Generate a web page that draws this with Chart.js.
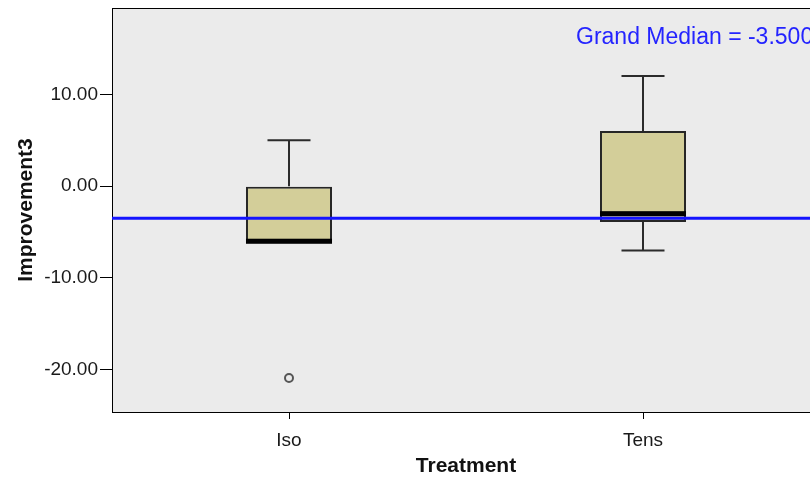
<!DOCTYPE html>
<html>
<head>
<meta charset="utf-8">
<script src="https://cdn.jsdelivr.net/npm/chart.js@4.4.1/dist/chart.umd.min.js"></script>
<style>
  html, body { margin:0; padding:0; background:#fff; overflow:hidden; }
  #wrap { width:830px; height:479px; }
</style>
</head>
<body>
<div id="wrap"><canvas id="c" width="830" height="479"></canvas></div>
<script>
'use strict';
// ── Data ────────────────────────────────────────────────────────────────
const categories   = ['Iso', 'Tens'];
const q1           = [-6.25, -3.9];
const q3           = [0, 6];
const medians      = [-6, -3];
const whiskerLow   = [-6.25, -7];
const whiskerHigh  = [5, 12];
const outliers     = [[-20.9], []];
const grandMedian  = -3.5;
const yTicks       = [-20, -10, 0, 10];
const yMin = -24.6, yMax = 19.4;

const FONT = "'Liberation Sans', Arial, sans-serif";

// ── Box-plot extras drawn through the chart's own scales ──────────────────
const boxExtras = {
  id: 'boxExtras',
  beforeDraw(chart) {
    const { ctx, chartArea: a } = chart;
    ctx.save();
    ctx.fillStyle = '#ebebeb';
    ctx.fillRect(a.left, a.top, a.right - a.left, a.bottom - a.top);
    ctx.restore();
  },
  beforeDatasetsDraw(chart) {
    const { ctx } = chart;
    const x = chart.scales.x, y = chart.scales.y;
    const meta = chart.getDatasetMeta(0);
    ctx.save();
    ctx.strokeStyle = '#2b2b2b';
    ctx.lineWidth = 2;
    categories.forEach((c, i) => {
      const cx = x.getPixelForValue(i);
      const capHalf = meta.data[i].width / 4;
      [[q3[i], whiskerHigh[i]], [q1[i], whiskerLow[i]]].forEach(([from, to]) => {
        if (from === to) return;
        ctx.beginPath();
        ctx.moveTo(cx, y.getPixelForValue(from));
        ctx.lineTo(cx, y.getPixelForValue(to));
        ctx.moveTo(cx - capHalf, y.getPixelForValue(to));
        ctx.lineTo(cx + capHalf, y.getPixelForValue(to));
        ctx.stroke();
      });
    });
    ctx.restore();
  },
  afterDatasetsDraw(chart) {
    const { ctx, chartArea: a } = chart;
    const x = chart.scales.x, y = chart.scales.y;
    const meta = chart.getDatasetMeta(0);
    ctx.save();
    // medians
    ctx.fillStyle = '#000';
    categories.forEach((c, i) => {
      const cx = x.getPixelForValue(i);
      const half = meta.data[i].width / 2;
      const my = y.getPixelForValue(medians[i]);
      ctx.fillRect(cx - half, my - 2.5, half * 2, 5);
    });
    // frame
    ctx.strokeStyle = '#000';
    ctx.lineWidth = 1;
    ctx.strokeRect(a.left + 0.5, a.top + 0.5, a.right - a.left, a.bottom - a.top);
    // grand median
    const gy = y.getPixelForValue(grandMedian);
    ctx.strokeStyle = '#1414ff';
    ctx.lineWidth = 3;
    ctx.beginPath();
    ctx.moveTo(a.left, gy);
    ctx.lineTo(a.right, gy);
    ctx.stroke();
    ctx.fillStyle = '#2424ff';
    ctx.font = '23px ' + FONT;
    ctx.textAlign = 'left';
    ctx.textBaseline = 'middle';
    ctx.fillText('Grand Median = ' + grandMedian.toFixed(3), 576, 38);
    ctx.restore();
  }
};

const outlierPoints = [];
outliers.forEach((vals, i) => vals.forEach(v => outlierPoints.push({ x: categories[i], y: v })));

new Chart(document.getElementById('c'), {
  data: {
    labels: categories,
    datasets: [
      {
        type: 'bar',
        data: categories.map((c, i) => [q1[i], q3[i]]),
        backgroundColor: '#d3ce99',
        borderColor: '#262626',
        borderWidth: 2,
        borderSkipped: false,
        categoryPercentage: 1,
        barPercentage: 0.243,
      },
      {
        type: 'line',
        data: outlierPoints,
        showLine: false,
        pointStyle: 'circle',
        pointRadius: 4,
        pointBorderWidth: 2,
        pointBorderColor: '#555',
        pointBackgroundColor: 'rgba(0,0,0,0)',
      },
    ],
  },
  options: {
    responsive: false,
    animation: false,
    layout: { padding: { left: 0, top: 8, right: 10, bottom: 0 } },
    plugins: { legend: { display: false }, tooltip: { enabled: false } },
    scales: {
      x: {
        type: 'category',
        offset: true,
        grid: { offset: false, drawOnChartArea: false, tickLength: 7, tickColor: '#000', tickWidth: 1 },
        border: { display: true, color: '#000' },
        ticks: { color: '#1a1a1a', font: { family: FONT, size: 19 }, padding: 10 },
        title: { display: true, text: 'Treatment', color: '#111',
                 font: { family: FONT, size: 21, weight: 'bold' }, padding: { top: 0, bottom: 0 } },
        afterFit(s) { s.height = 67; s.paddingLeft = 0; s.paddingRight = 0; },
      },
      y: {
        min: yMin, max: yMax,
        afterBuildTicks(s) { s.ticks = yTicks.map(v => ({ value: v })); },
        grid: { drawOnChartArea: false, tickLength: 12, tickColor: '#000', tickWidth: 1 },
        border: { display: true, color: '#000' },
        ticks: { color: '#1a1a1a', font: { family: FONT, size: 19 }, padding: 2,
                 callback: v => Number(v).toFixed(2) },
        title: { display: true, text: 'Improvement3', color: '#111',
                 font: { family: FONT, size: 21, weight: 'bold' }, padding: { top: 14, bottom: 0 } },
        afterFit(s) { s.width = 112; s.paddingTop = 0; s.paddingBottom = 0; },
      },
    },
  },
  plugins: [boxExtras],
});
</script>
</body>
</html>
